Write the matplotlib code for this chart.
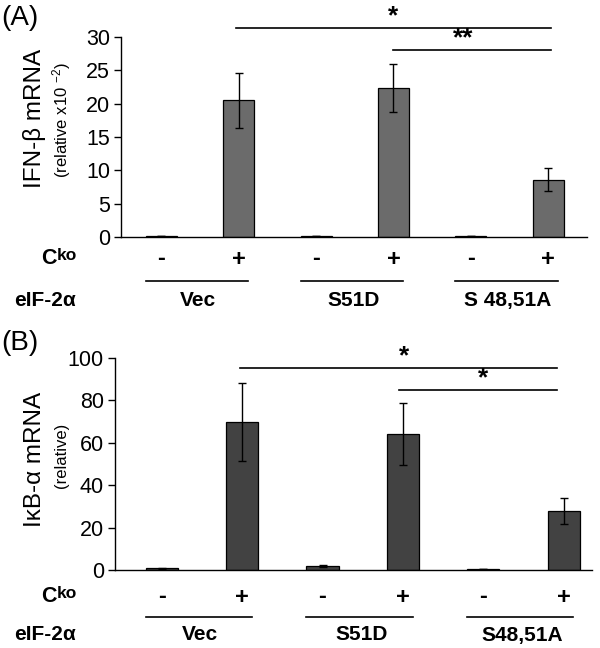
import numpy as np
import matplotlib
matplotlib.use("Agg")
import matplotlib.pyplot as plt
import matplotlib.transforms as mtransforms

plt.rcParams['font.family'] = ['Liberation Sans', 'DejaVu Sans']
plt.rcParams['mathtext.fontset'] = 'custom'
plt.rcParams['mathtext.rm'] = 'Liberation Sans'
plt.rcParams['mathtext.it'] = 'Liberation Sans'

# data
cko = ['-', '+', '-', '+', '-', '+']
groups = ['Vec', 'S51D', 'S48,51A']
groups_a = ['Vec', 'S51D', 'S 48,51A']

ifnb = [0.1, 20.5, 0.1, 22.4, 0.1, 8.6]
ifnb_err = [0, 4.1, 0, 3.6, 0, 1.7]

ikba = [0.8, 69.8, 1.9, 64.2, 0.4, 27.9]
ikba_err = [0.2, 18.3, 0.4, 14.5, 0.1, 6.0]

H = 648.0


def fy(py):
    # figure pixel row -> figure fraction
    return 1 - py / H


def panel(fig, rect, vals, errs, color, ylim, yticks, xlim, row_y, glabels, sig):
    ax = fig.add_axes(rect)
    x = np.arange(len(vals))
    ax.bar(x, vals, width=0.4, color=color, edgecolor='black', linewidth=0.9,
           yerr=errs, error_kw=dict(ecolor='black', elinewidth=1.0, capsize=3, capthick=1.0))
    ax.set_xlim(*xlim)
    ax.set_ylim(*ylim)
    ax.set_yticks(yticks)
    ax.tick_params(axis='y', labelsize=15.5, length=5, width=1, direction='out', pad=3)
    ax.set_xticks([])
    for s in ['top', 'right']:
        ax.spines[s].set_visible(False)
    ax.spines['left'].set_linewidth(1)
    ax.spines['bottom'].set_linewidth(1)

    tr = mtransforms.blended_transform_factory(ax.transData, fig.transFigure)
    c_y, line_y, g_y = row_y
    for xi, s in zip(x, cko):
        ax.text(xi, fy(c_y), s, transform=tr, ha='center', va='center',
                fontsize=17, fontweight='bold', clip_on=False)
    for gi, g in enumerate(glabels):
        x0, x1 = 2 * gi, 2 * gi + 1
        ax.plot([x0 - 0.2, x1 + 0.12], [fy(line_y)] * 2, color='black', lw=1.2,
                transform=tr, clip_on=False)
        ax.text((x0 + x1) / 2 - 0.02, fy(g_y), g, transform=tr, ha='center', va='center',
                fontsize=15, fontweight='bold')

    for (xa, xb, yv, lab, xs) in sig:
        ax.plot([xa, xb], [yv, yv], color='black', lw=1.2, clip_on=False)
        ax.text(xs, yv, lab, ha='center', va='bottom', fontsize=19,
                fontweight='bold', clip_on=False)

    fig.text(41 / 600, fy(c_y), 'C', ha='left', va='center', fontsize=15.5, fontweight='bold')
    fig.text(57 / 600, fy(c_y - 4), 'ko', ha='left', va='center', fontsize=12.5, fontweight='bold')
    fig.text(14 / 600, fy(g_y), 'eIF-2\u03b1', ha='left', va='center', fontsize=15,
             fontweight='bold')
    return ax


fig = plt.figure(figsize=(6, 6.48), dpi=100)

# (A)
panel(fig, [121 / 600, fy(237), 466 / 600, 200 / H], ifnb, ifnb_err, '#6b6b6b',
      (0, 30), [0, 5, 10, 15, 20, 25, 30], (-0.52, 5.5), (259, 281, 300), groups_a,
      [(0.97, 5.03, 31.35, '*', 3.0), (2.99, 5.03, 28.05, '**', 3.9)])
fig.text(35 / 600, fy(118), 'IFN-\u03b2 mRNA', rotation=90, ha='center', va='center',
         fontsize=17.5)
fig.text(62 / 600, fy(120), '(relative x10 $^{-2}$)', rotation=90, ha='center', va='center',
         fontsize=12)
fig.text(1 / 600, fy(18), '(A)', ha='left', va='center', fontsize=20)

# (B)
panel(fig, [115 / 600, fy(570), 477 / 600, 212 / H], ikba, ikba_err, '#424242',
      (0, 100), [0, 20, 40, 60, 80, 100], (-0.58, 5.35), (597, 617, 635), groups,
      [(0.98, 4.91, 95.3, '*', 3.02), (2.95, 4.91, 84.9, '*', 4.0)])
fig.text(35 / 600, fy(459), 'I\u03baB-\u03b1 mRNA', rotation=90, ha='center', va='center',
         fontsize=17.5)
fig.text(62 / 600, fy(455), '(relative)', rotation=90, ha='center', va='center', fontsize=12)
fig.text(1 / 600, fy(343), '(B)', ha='left', va='center', fontsize=20)

fig.savefig('out.png', dpi=100)
